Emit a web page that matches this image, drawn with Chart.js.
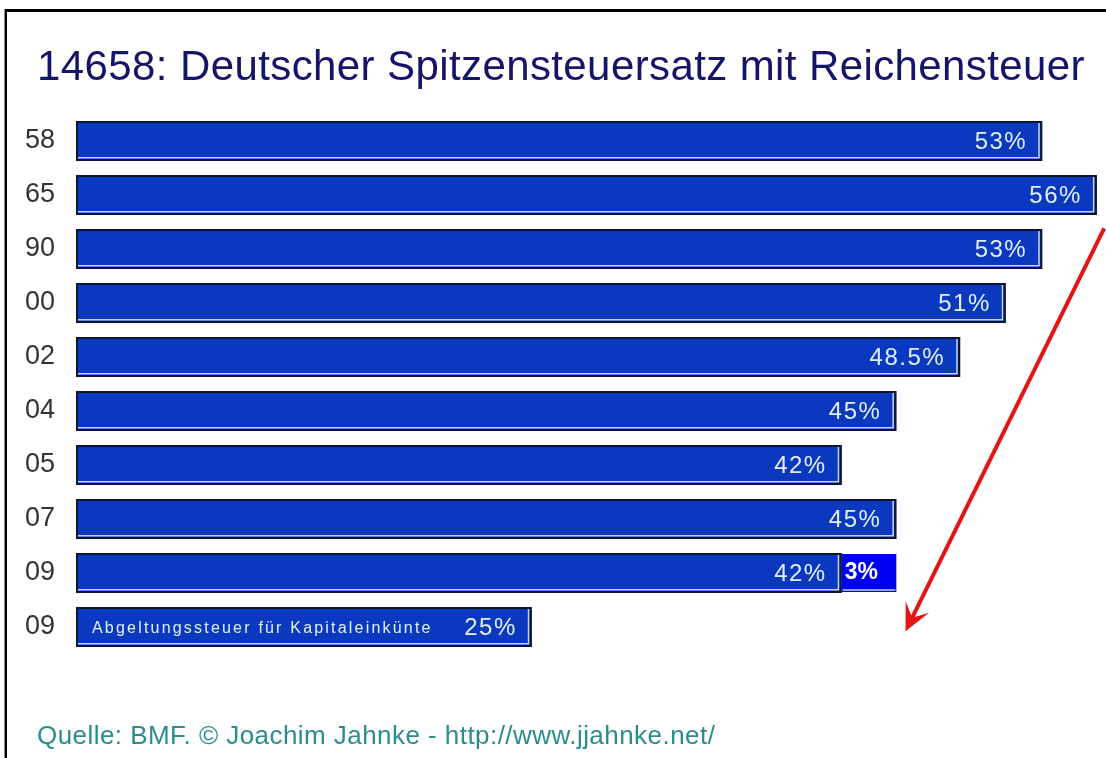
<!DOCTYPE html>
<html>
<head>
<meta charset="utf-8">
<script src="https://cdn.jsdelivr.net/npm/chart.js@4/dist/chart.umd.min.js"></script>
<style>
  html, body { margin: 0; padding: 0; background: #fff; }
  #wrap { position: relative; width: 1106px; height: 758px; overflow: hidden; background: #fff; }
  #frame { position: absolute; left: 5px; top: 9px; right: -10px; bottom: -10px;
           border-left: 2px solid #000; border-top: 3px solid #000; box-shadow: -1px 0 0 #888; }
  #title { position: absolute; left: 0; top: 42px; width: 1122px; text-align: center;
           font-family: "Liberation Sans", Arial, sans-serif; font-size: 42px; letter-spacing: 0.4px;
           color: #14146a; white-space: nowrap; }
  #source { position: absolute; left: 37px; top: 720px; font-family: "Liberation Sans", Arial, sans-serif;
            font-size: 26px; letter-spacing: 0.45px; color: #2b8c8c; white-space: nowrap; }
  canvas { position: absolute; left: 0; top: 0; }
</style>
</head>
<body>
<div id="wrap">
  <div id="frame"></div>
  <canvas id="c" width="1106" height="758"></canvas>
  <div id="title">14658: Deutscher Spitzensteuersatz mit Reichensteuer</div>
  <div id="source">Quelle: BMF. © Joachim Jahnke - http://www.jjahnke.net/</div>
</div>
<script>
const categories = ['58', '65', '90', '00', '02', '04', '05', '07', '09', '09'];
const rateValues = [53, 56, 53, 51, 48.5, 45, 42, 45, 42, 25];
const surchargeValues = [0, 0, 0, 0, 0, 0, 0, 0, 3, 0];
const rateLabels = ['53%', '56%', '53%', '51%', '48.5%', '45%', '42%', '45%', '42%', '25%'];
const surchargeLabels = ['', '', '', '', '', '', '', '', '3%', ''];
const barNotes = ['', '', '', '', '', '', '', '', '', 'Abgeltungssteuer für Kapitaleinkünte'];
const arrowFrom = { value: 56.4, index: 1.62 };
const arrowTo = { value: 45.5, index: 9.08 };

const FONT = '"Liberation Sans", Arial, sans-serif';

const decorPlugin = {
  id: 'decor',
  afterDatasetsDraw(chart) {
    const ctx = chart.ctx;
    ctx.save();
    const main = chart.getDatasetMeta(0).data;
    main.forEach((el, i) => {
      const p = el.getProps(['x', 'y', 'base', 'height'], true);
      const left = Math.min(p.base, p.x), right = Math.max(p.base, p.x);
      const top = p.y - p.height / 2, bottom = p.y + p.height / 2;
      ctx.strokeStyle = '#c4d6ee';
      ctx.lineWidth = 1.5;
      ctx.beginPath();
      ctx.moveTo(left + 2, bottom - 3.2);
      ctx.lineTo(right - 3.2, bottom - 3.2);
      ctx.lineTo(right - 3.2, top + 2);
      ctx.stroke();
      ctx.strokeStyle = '#0c1430';
      ctx.lineWidth = 2;
      ctx.strokeRect(left + 1, top + 1, right - left - 2, bottom - top - 2);
      ctx.fillStyle = '#e2efff';
      ctx.font = '24px ' + FONT;
      ctx.letterSpacing = '1.5px';
      ctx.textAlign = 'right';
      ctx.textBaseline = 'middle';
      ctx.fillText(rateLabels[i], right - 15, p.y + 1);
      if (barNotes[i]) {
        ctx.font = '16px ' + FONT;
        ctx.letterSpacing = '2.2px';
        ctx.textAlign = 'left';
        ctx.fillText(barNotes[i], left + 16, p.y + 2);
      }
    });
    const extra = chart.getDatasetMeta(1).data;
    extra.forEach((el, i) => {
      if (!surchargeValues[i]) return;
      const p = el.getProps(['x', 'y', 'base', 'height'], true);
      const left = Math.min(p.base, p.x), right = Math.max(p.base, p.x);
      const bottom = p.y + p.height / 2;
      ctx.strokeStyle = '#c4d6ee';
      ctx.lineWidth = 1.5;
      ctx.beginPath();
      ctx.moveTo(left + 1, bottom - 2);
      ctx.lineTo(right - 1, bottom - 2);
      ctx.stroke();
      ctx.fillStyle = '#ffffff';
      ctx.font = 'bold 23px ' + FONT;
      ctx.letterSpacing = '0px';
      ctx.textAlign = 'left';
      ctx.textBaseline = 'middle';
      ctx.fillText(surchargeLabels[i], left + 3, p.y);
    });
    ctx.restore();
  },
  afterDraw(chart) {
    const ctx = chart.ctx;
    const xs = chart.scales.x, ys = chart.scales.y;
    const x1 = xs.getPixelForValue(arrowFrom.value), y1 = ys.getPixelForValue(arrowFrom.index);
    const x2 = xs.getPixelForValue(arrowTo.value), y2 = ys.getPixelForValue(arrowTo.index);
    const ang = Math.atan2(y2 - y1, x2 - x1);
    ctx.save();
    ctx.strokeStyle = '#e41414';
    ctx.fillStyle = '#e41414';
    ctx.lineWidth = 4;
    ctx.beginPath();
    ctx.moveTo(x1, y1);
    ctx.lineTo(x2 - 8 * Math.cos(ang), y2 - 8 * Math.sin(ang));
    ctx.stroke();
    const len = 30, spread = 0.45;
    ctx.beginPath();
    ctx.moveTo(x2, y2);
    ctx.lineTo(x2 - len * Math.cos(ang - spread), y2 - len * Math.sin(ang - spread));
    ctx.lineTo(x2 - 0.5 * len * Math.cos(ang), y2 - 0.5 * len * Math.sin(ang));
    ctx.lineTo(x2 - len * Math.cos(ang + spread), y2 - len * Math.sin(ang + spread));
    ctx.closePath();
    ctx.fill();
    ctx.restore();
  }
};

new Chart(document.getElementById('c'), {
  type: 'bar',
  data: {
    labels: categories,
    datasets: [
      { data: rateValues, backgroundColor: '#0a39bf', borderWidth: 0, stack: 's',
        barPercentage: 0.74, categoryPercentage: 1 },
      { data: surchargeValues, backgroundColor: '#0000f2', borderWidth: 0, stack: 's',
        barPercentage: 0.70, categoryPercentage: 1 }
    ]
  },
  options: {
    indexAxis: 'y',
    responsive: false,
    animation: false,
    events: [],
    layout: { padding: { top: 114, bottom: 104, left: 0, right: 0 } },
    plugins: { legend: { display: false }, tooltip: { enabled: false }, title: { display: false } },
    scales: {
      x: { stacked: true, min: 0, max: 56.5, display: false },
      y: {
        stacked: true,
        grid: { display: false, drawTicks: false },
        border: { display: false },
        ticks: { color: '#333333', font: { family: FONT, size: 27 }, padding: 21 },
        afterFit(scale) { scale.width = 76; }
      }
    }
  },
  plugins: [decorPlugin]
});
</script>
</body>
</html>
